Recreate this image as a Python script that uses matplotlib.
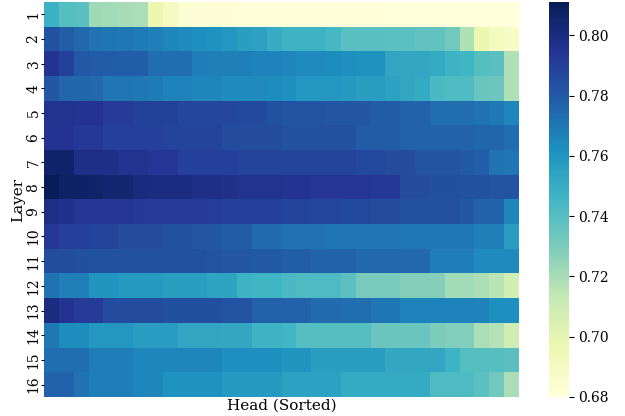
import numpy as np
import matplotlib
matplotlib.use('Agg')
import matplotlib.pyplot as plt
import seaborn as sns

plt.rcParams['font.family'] = 'DejaVu Serif'

layers = [str(i) for i in range(1, 17)]

# per-layer head scores, sorted high -> low
layer_1 = [0.748, 0.740, 0.739, 0.722, 0.721, 0.720, 0.719, 0.697, 0.690, 0.683, 0.682, 0.682,
           0.682, 0.681, 0.681, 0.681, 0.681, 0.681, 0.681, 0.681, 0.681, 0.681, 0.681, 0.680,
           0.680, 0.680, 0.680, 0.680, 0.680, 0.680, 0.680, 0.680]
layer_2 = [0.783, 0.778, 0.775, 0.772, 0.771, 0.770, 0.769, 0.767, 0.765, 0.764, 0.762, 0.761,
           0.759, 0.756, 0.755, 0.750, 0.747, 0.747, 0.747, 0.744, 0.739, 0.739, 0.739, 0.738,
           0.738, 0.737, 0.737, 0.733, 0.718, 0.697, 0.690, 0.688]
layer_3 = [0.795, 0.790, 0.780, 0.779, 0.779, 0.778, 0.778, 0.773, 0.773, 0.773, 0.768, 0.767,
           0.767, 0.767, 0.766, 0.766, 0.765, 0.764, 0.764, 0.763, 0.762, 0.761, 0.761, 0.753,
           0.752, 0.752, 0.751, 0.747, 0.746, 0.740, 0.739, 0.718]
layer_4 = [0.781, 0.776, 0.776, 0.775, 0.771, 0.771, 0.770, 0.769, 0.766, 0.766, 0.765, 0.765,
           0.764, 0.764, 0.764, 0.763, 0.762, 0.759, 0.759, 0.759, 0.758, 0.756, 0.756, 0.755,
           0.752, 0.751, 0.743, 0.742, 0.742, 0.735, 0.734, 0.718]
layer_5 = [0.796, 0.796, 0.795, 0.795, 0.792, 0.792, 0.789, 0.789, 0.789, 0.787, 0.787, 0.787,
           0.787, 0.786, 0.786, 0.783, 0.782, 0.782, 0.782, 0.781, 0.781, 0.781, 0.779, 0.779,
           0.777, 0.777, 0.773, 0.773, 0.773, 0.772, 0.770, 0.765]
layer_6 = [0.795, 0.795, 0.793, 0.793, 0.790, 0.790, 0.790, 0.790, 0.788, 0.788, 0.788, 0.788,
           0.785, 0.785, 0.785, 0.785, 0.783, 0.783, 0.783, 0.783, 0.783, 0.779, 0.779, 0.779,
           0.777, 0.777, 0.777, 0.777, 0.777, 0.776, 0.776, 0.773]
layer_7 = [0.806, 0.806, 0.798, 0.798, 0.798, 0.796, 0.796, 0.794, 0.794, 0.790, 0.790, 0.790,
           0.790, 0.788, 0.788, 0.788, 0.788, 0.788, 0.788, 0.788, 0.788, 0.786, 0.786, 0.785,
           0.785, 0.782, 0.782, 0.782, 0.780, 0.778, 0.772, 0.771]
layer_8 = [0.811, 0.807, 0.807, 0.806, 0.804, 0.804, 0.801, 0.800, 0.800, 0.800, 0.798, 0.798,
           0.797, 0.796, 0.796, 0.796, 0.795, 0.795, 0.794, 0.794, 0.794, 0.794, 0.793, 0.793,
           0.785, 0.785, 0.784, 0.784, 0.783, 0.783, 0.782, 0.782]
layer_9 = [0.799, 0.797, 0.794, 0.794, 0.794, 0.794, 0.793, 0.792, 0.792, 0.792, 0.792, 0.791,
           0.790, 0.790, 0.790, 0.790, 0.788, 0.788, 0.787, 0.787, 0.786, 0.786, 0.785, 0.785,
           0.783, 0.783, 0.783, 0.783, 0.781, 0.777, 0.777, 0.765]
layer_10 = [0.793, 0.790, 0.790, 0.788, 0.788, 0.785, 0.785, 0.785, 0.783, 0.783, 0.781, 0.781,
            0.779, 0.779, 0.774, 0.774, 0.772, 0.772, 0.772, 0.771, 0.771, 0.771, 0.771, 0.771,
            0.770, 0.770, 0.770, 0.770, 0.770, 0.767, 0.767, 0.757]
layer_11 = [0.785, 0.785, 0.784, 0.783, 0.783, 0.783, 0.783, 0.783, 0.783, 0.783, 0.783, 0.782,
            0.781, 0.781, 0.780, 0.780, 0.778, 0.778, 0.777, 0.777, 0.777, 0.775, 0.775, 0.775,
            0.775, 0.775, 0.768, 0.768, 0.768, 0.764, 0.764, 0.764]
layer_12 = [0.772, 0.767, 0.767, 0.760, 0.760, 0.758, 0.758, 0.758, 0.756, 0.756, 0.756, 0.754,
            0.754, 0.747, 0.746, 0.746, 0.743, 0.742, 0.742, 0.742, 0.738, 0.731, 0.731, 0.731,
            0.728, 0.728, 0.728, 0.721, 0.721, 0.719, 0.716, 0.708]
layer_13 = [0.800, 0.795, 0.792, 0.792, 0.785, 0.785, 0.785, 0.785, 0.784, 0.784, 0.784, 0.784,
            0.782, 0.782, 0.777, 0.777, 0.777, 0.777, 0.774, 0.774, 0.773, 0.773, 0.771, 0.771,
            0.766, 0.766, 0.766, 0.766, 0.766, 0.766, 0.762, 0.762]
layer_14 = [0.770, 0.763, 0.763, 0.759, 0.759, 0.759, 0.757, 0.757, 0.757, 0.753, 0.753, 0.753,
            0.752, 0.752, 0.747, 0.747, 0.745, 0.740, 0.740, 0.740, 0.740, 0.740, 0.735, 0.735,
            0.735, 0.735, 0.730, 0.729, 0.729, 0.719, 0.717, 0.709]
layer_15 = [0.773, 0.773, 0.773, 0.768, 0.768, 0.768, 0.765, 0.765, 0.765, 0.765, 0.765, 0.765,
            0.762, 0.762, 0.762, 0.762, 0.760, 0.760, 0.756, 0.756, 0.756, 0.756, 0.756, 0.752,
            0.752, 0.752, 0.752, 0.747, 0.740, 0.740, 0.740, 0.739]
layer_16 = [0.777, 0.777, 0.772, 0.768, 0.768, 0.768, 0.765, 0.765, 0.761, 0.761, 0.761, 0.761,
            0.758, 0.758, 0.758, 0.758, 0.755, 0.755, 0.755, 0.755, 0.751, 0.751, 0.751, 0.751,
            0.751, 0.751, 0.742, 0.742, 0.742, 0.738, 0.733, 0.719]

scores = np.array([layer_1, layer_2, layer_3, layer_4, layer_5, layer_6, layer_7, layer_8,
                   layer_9, layer_10, layer_11, layer_12, layer_13, layer_14, layer_15, layer_16])

fig = plt.figure(figsize=(6.25, 4.16), dpi=100)
ax = fig.add_axes([0.0704, 0.046, 0.760, 0.949])
cax = fig.add_axes([0.878, 0.046, 0.032, 0.949])

sns.heatmap(scores, ax=ax, cbar_ax=cax, cmap='YlGnBu',
            xticklabels=False, yticklabels=layers)
ax.set_yticklabels(layers, rotation=90, va='center', fontsize=10)
ax.tick_params(axis='y', length=2.5, pad=0)
ax.set_ylabel('Layer', fontsize=11, labelpad=1)
ax.set_xlabel('Head (Sorted)', fontsize=11, labelpad=1)
cax.set_yticks([0.68, 0.70, 0.72, 0.74, 0.76, 0.78, 0.80])
cax.set_yticklabels(['0.68', '0.70', '0.72', '0.74', '0.76', '0.78', '0.80'], fontsize=10)

fig.savefig('out.png', dpi=100)
